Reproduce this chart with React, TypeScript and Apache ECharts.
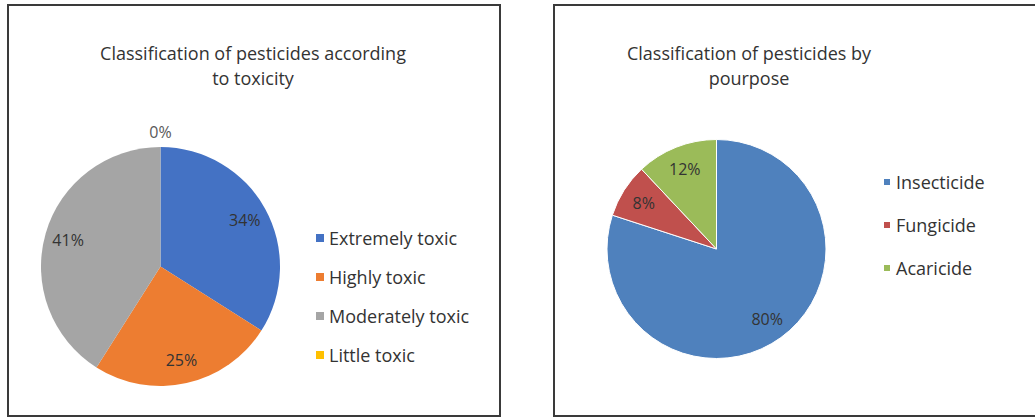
import React, { useEffect, useRef } from "react";
import * as echarts from "echarts";

const toxicityCategories = ["Extremely toxic", "Highly toxic", "Moderately toxic", "Little toxic"];
const toxicityValues = [34, 25, 41, 0];
const toxicityColors = ["#4472C4", "#ED7D31", "#A5A5A5", "#FFC000"];

const purposeCategories = ["Insecticide", "Fungicide", "Acaricide"];
const purposeValues = [80, 8, 12];
const purposeColors = ["#4F81BD", "#C0504D", "#9BBB59"];

const FONT = "'Open Sans', 'Noto Sans', sans-serif";
const TEXT = "#333333";

export default function App() {
  const ref = useRef<HTMLDivElement>(null);

  useEffect(() => {
    if (!ref.current) return;
    const chart = echarts.init(ref.current, undefined, { renderer: "svg" });

    const leftR = 119.5;
    const leftC = [160.5, 266.5];
    const rightR = 109.5;
    const rightC = [716.5, 249];

    const toxData = toxicityCategories.map((name, i) => ({
      name,
      value: toxicityValues[i],
      itemStyle: { color: toxicityColors[i] },
    }));
    const purData = purposeCategories.map((name, i) => ({
      name,
      value: purposeValues[i],
      itemStyle: { color: purposeColors[i] },
    }));

    const labelStyle = {
      fontFamily: FONT,
      fontSize: 16,
      color: TEXT,
    };

    const titleStyle = { fontFamily: FONT, fontSize: 18, fontWeight: "normal", color: TEXT, lineHeight: 25 };
    const legendText = { fontFamily: FONT, fontSize: 18, color: TEXT };

    chart.setOption({
      animation: false,
      backgroundColor: "#ffffff",
      title: [
        {
          text: "Classification of pesticides according\nto toxicity",
          left: 253,
          top: 40,
          padding: 0,
          textAlign: "center",
          textStyle: titleStyle,
        },
        {
          text: "Classification of pesticides by\npourpose",
          left: 749,
          top: 40,
          padding: 0,
          textAlign: "center",
          textStyle: titleStyle,
        },
      ],
      legend: [
        {
          orient: "vertical",
          left: 316,
          top: 229,
          padding: 0,
          itemWidth: 8,
          itemHeight: 8,
          itemGap: 21,
          icon: "rect",
          selectedMode: false,
          textStyle: legendText,
          data: toxicityCategories.map((name, i) => ({ name, itemStyle: { color: toxicityColors[i] } })),
        },
        {
          orient: "vertical",
          left: 882,
          top: 173,
          padding: 0,
          itemWidth: 8,
          itemHeight: 8,
          itemGap: 25,
          icon: "rect",
          selectedMode: false,
          textStyle: legendText,
          data: purposeCategories.map((name, i) => ({ name, itemStyle: { color: purposeColors[i] } })),
        },
      ],
      graphic: [
        {
          type: "rect",
          shape: { x: 8, y: 5, width: 492, height: 411 },
          style: { fill: "none", stroke: "#3a3a3a", lineWidth: 2 },
          silent: true,
        },
        {
          type: "rect",
          shape: { x: 554, y: 5, width: 500, height: 411 },
          style: { fill: "none", stroke: "#3a3a3a", lineWidth: 2 },
          silent: true,
        },
      ],
      series: [
        {
          type: "pie",
          center: leftC,
          radius: [0, leftR],
          startAngle: 90,
          clockwise: true,
          silent: true,
          label: { show: false },
          labelLine: { show: false },
          itemStyle: { borderWidth: 0 },
          data: toxData,
        },
        {
          type: "pie",
          center: leftC,
          radius: [leftR * 0.56, leftR],
          startAngle: 90,
          clockwise: true,
          silent: true,
          itemStyle: { color: "transparent", borderWidth: 0 },
          label: {
            show: true,
            position: "inside",
            ...labelStyle,
            formatter: (p: any) => (p.value > 0 ? `${p.value}%` : ""),
          },
          labelLine: { show: false },
          data: toxData.map((d) => ({ name: d.name, value: d.value })),
        },
        {
          type: "pie",
          center: leftC,
          radius: [leftR, leftR + 24],
          startAngle: 90,
          clockwise: true,
          silent: true,
          itemStyle: { color: "transparent", borderWidth: 0 },
          label: {
            show: true,
            position: "inside",
            ...labelStyle,
            color: "#595959",
            formatter: (p: any) => (p.value === 0 ? `${p.value}%` : ""),
          },
          labelLine: { show: false },
          data: toxData.map((d) => ({ name: d.name, value: d.value })),
        },
        {
          type: "pie",
          center: rightC,
          radius: [0, rightR],
          startAngle: 90,
          clockwise: true,
          silent: true,
          label: { show: false },
          labelLine: { show: false },
          itemStyle: { borderWidth: 1, borderColor: "#ffffff" },
          data: purData,
        },
        {
          type: "pie",
          center: rightC,
          radius: [rightR * 0.52, rightR],
          startAngle: 90,
          clockwise: true,
          silent: true,
          itemStyle: { color: "transparent", borderWidth: 0 },
          label: {
            show: true,
            position: "inside",
            ...labelStyle,
            formatter: (p: any) => `${p.value}%`,
          },
          labelLine: { show: false },
          data: purData.map((d) => ({ name: d.name, value: d.value })),
        },
      ],
    });

    return () => chart.dispose();
  }, []);

  return (
    <div
      ref={ref}
      style={{ position: "fixed", left: 0, top: 0, width: 1035, height: 419 }}
    />
  );
}
